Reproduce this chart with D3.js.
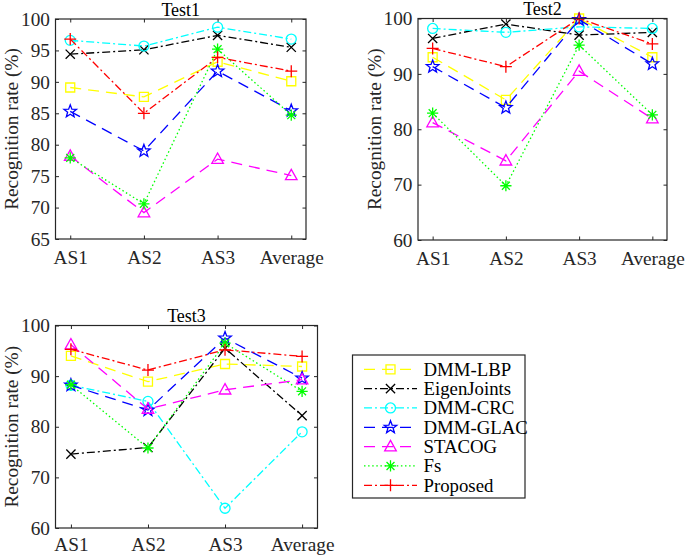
<!DOCTYPE html>
<html>
<head>
<meta charset="utf-8">
<script src="https://cdn.jsdelivr.net/npm/d3@7"></script>
<style>
  html, body { margin: 0; padding: 0; background: #fff; }
  svg, svg text { font-family: 'Liberation Serif', 'Times New Roman', Times, 'DejaVu Serif', serif; }
</style>
</head>
<body>
<script>
// ---------------- DATA ----------------
const categories = ["AS1", "AS2", "AS3", "Average"];
const methods = ["DMM-LBP", "EigenJoints", "DMM-CRC", "DMM-GLAC", "STACOG", "Fs", "Proposed"];

// rows follow `methods` order; columns follow `categories`
const test1Values = [
  [89.1, 87.6, 93.2, 90.1],
  [94.4, 95.1, 97.4, 95.5],
  [96.6, 95.7, 98.7, 96.8],
  [85.3, 79.0, 91.7, 85.4],
  [78.2, 69.2, 77.7, 75.1],
  [77.9, 70.6, 95.2, 84.7],
  [96.8, 85.0, 93.9, 91.7]
];
const test2Values = [
  [93.0, 85.3, 100.0, 93.0],
  [96.4, 99.0, 97.0, 97.5],
  [98.2, 97.5, 98.5, 98.2],
  [91.3, 83.9, 99.8, 91.8],
  [81.2, 74.3, 90.5, 81.9],
  [82.9, 69.8, 95.2, 82.6],
  [94.6, 91.3, 100.0, 95.4]
];
const test3Values = [
  [94.0, 88.9, 92.4, 91.9],
  [74.6, 75.9, 95.5, 82.2],
  [88.2, 85.0, 63.9, 79.0],
  [88.2, 83.3, 97.5, 89.6],
  [96.2, 83.5, 87.3, 89.3],
  [88.3, 75.8, 96.5, 87.0],
  [95.3, 91.2, 95.2, 93.9]
];
const test1Ticks = [65, 70, 75, 80, 85, 90, 95, 100];
const test23Ticks = [60, 70, 80, 90, 100];

// ---------------- STYLES ----------------
const styles = [
  { color: "#ffff00", dash: "11,7",        marker: "square" },
  { color: "#000000", dash: "8,3,2,3",     marker: "x" },
  { color: "#00ffff", dash: "8,3,2,3",     marker: "circle" },
  { color: "#0000ff", dash: "11,7",        marker: "star" },
  { color: "#ff00ff", dash: "11,7",        marker: "triangle" },
  { color: "#00ff00", dash: "1.5,2.6",     marker: "asterisk" },
  { color: "#ff0000", dash: "8,3,2,3",     marker: "plus" }
];

const FONT = "'Liberation Serif', 'Times New Roman', Times, 'DejaVu Serif', serif";

function markerPath(type) {
  const p = d3.path();
  if (type === "square") {
    p.rect(-4.5, -4.5, 9, 9);
  } else if (type === "circle") {
    p.moveTo(5, 0); p.arc(0, 0, 5, 0, 2 * Math.PI);
  } else if (type === "x") {
    const r = 4.6;
    p.moveTo(-r, -r); p.lineTo(r, r); p.moveTo(-r, r); p.lineTo(r, -r);
  } else if (type === "plus") {
    const r = 6;
    p.moveTo(-r, 0); p.lineTo(r, 0); p.moveTo(0, -r); p.lineTo(0, r);
  } else if (type === "asterisk") {
    const r = 5.6, q = r * 0.707;
    p.moveTo(-r, 0); p.lineTo(r, 0); p.moveTo(0, -r); p.lineTo(0, r);
    p.moveTo(-q, -q); p.lineTo(q, q); p.moveTo(-q, q); p.lineTo(q, -q);
  } else if (type === "triangle") {
    p.moveTo(0, -6.2); p.lineTo(5.8, 4.2); p.lineTo(-5.8, 4.2); p.closePath();
  } else if (type === "star") {
    const R = 6.6, rr = R * 0.42;
    for (let k = 0; k < 10; k++) {
      const a = -Math.PI / 2 + k * Math.PI / 5;
      const rad = k % 2 === 0 ? R : rr;
      const px = rad * Math.cos(a), py = rad * Math.sin(a);
      if (k === 0) p.moveTo(px, py); else p.lineTo(px, py);
    }
    p.closePath();
  }
  return p.toString();
}

const W = 685, H = 557;
const svg = d3.select("body").append("svg").attr("width", W).attr("height", H)
  .style("font-family", FONT);
svg.append("rect").attr("width", W).attr("height", H).attr("fill", "#fff");

const axisColor = "#262626";
const fontSize = 19.3;

function drawPanel(cfg) {
  const g = svg.append("g");
  const x = d3.scaleLinear().domain([0.8, 4.2]).range([cfg.left, cfg.right]);
  const y = d3.scaleLinear().domain(cfg.yDomain).range([cfg.bottom, cfg.top]);

  const left = g.append("g").attr("transform", `translate(${cfg.left},0)`)
    .call(d3.axisLeft(y).tickValues(cfg.yTicks).tickSize(-3.5).tickPadding(5.5).tickFormat(d3.format("d")));
  const right = g.append("g").attr("transform", `translate(${cfg.right},0)`)
    .call(d3.axisRight(y).tickValues(cfg.yTicks).tickSize(-3.5).tickFormat(""));
  const top = g.append("g").attr("transform", `translate(0,${cfg.top})`)
    .call(d3.axisTop(x).tickValues([1, 2, 3, 4]).tickSize(-3.5).tickFormat(""));
  const bottom = g.append("g").attr("transform", `translate(0,${cfg.bottom})`)
    .call(d3.axisBottom(x).tickValues([1, 2, 3, 4]).tickSize(-3.5).tickPadding(cfg.xPad)
      .tickFormat((d, i) => categories[i]));
  [left, right, top, bottom].forEach(a => {
    a.attr("font-family", null).attr("font-size", null);
    a.select(".domain").remove();
    a.selectAll("line").attr("stroke", axisColor).attr("stroke-width", 1);
    a.selectAll("text").attr("fill", axisColor)
      .style("font-size", fontSize + "px").style("font-family", FONT);
  });

  cfg.data.forEach((vals, si) => {
    const st = styles[si];
    const line = d3.line().x((d, i) => x(i + 1)).y(d => y(d));
    g.append("path").datum(vals).attr("d", line)
      .attr("fill", "none").attr("stroke", st.color).attr("stroke-width", 1.3)
      .attr("stroke-dasharray", st.dash);
    g.selectAll(null).data(vals).enter().append("path")
      .attr("transform", (d, i) => `translate(${x(i + 1)},${y(d)})`)
      .attr("d", markerPath(st.marker))
      .attr("fill", "none").attr("stroke", st.color).attr("stroke-width", 1.3);
  });

  g.append("rect")
    .attr("x", cfg.left).attr("y", cfg.top)
    .attr("width", cfg.right - cfg.left).attr("height", cfg.bottom - cfg.top)
    .attr("fill", "none").attr("stroke", axisColor).attr("stroke-width", 1.2);

  g.append("text").attr("x", (cfg.left + cfg.right) / 2).attr("y", cfg.top - 3.5)
    .attr("text-anchor", "middle").style("font-size", "18px").style("font-family", FONT)
    .attr("fill", "#000").text(cfg.title);

  const cy = (cfg.top + cfg.bottom) / 2, cx = cfg.left - 37.5;
  g.append("text").attr("transform", `translate(${cx},${cy}) rotate(-90)`)
    .attr("text-anchor", "middle").style("font-size", fontSize + "px").style("font-family", FONT)
    .attr("fill", axisColor).text("Recognition rate (%)");
}

drawPanel({ left: 55.5, right: 306, top: 19, bottom: 239, yDomain: [65, 100], yTicks: test1Ticks,
  title: "Test1", data: test1Values, xPad: 11.5 });
drawPanel({ left: 418, right: 667, top: 18.5, bottom: 240, yDomain: [60, 100], yTicks: test23Ticks,
  title: "Test2", data: test2Values, xPad: 11.5 });
drawPanel({ left: 55.5, right: 317.5, top: 325.5, bottom: 528, yDomain: [60, 100], yTicks: test23Ticks,
  title: "Test3", data: test3Values, xPad: 9.5 });

// legend
const lg = svg.append("g");
lg.append("rect").attr("x", 352.5).attr("y", 355).attr("width", 172.5).attr("height", 143)
  .attr("fill", "#fff").attr("stroke", axisColor).attr("stroke-width", 1.2);
const legY = d3.scalePoint().domain(methods).range([369.3, 485.3]);
methods.forEach((m, si) => {
  const st = styles[si];
  const yy = legY(m);
  lg.append("line").attr("x1", 364).attr("x2", 417).attr("y1", yy).attr("y2", yy)
    .attr("stroke", st.color).attr("stroke-width", 1.3).attr("stroke-dasharray", st.dash);
  lg.append("path").attr("transform", `translate(390.5,${yy})`).attr("d", markerPath(st.marker))
    .attr("fill", "none").attr("stroke", st.color).attr("stroke-width", 1.3);
  lg.append("text").attr("x", 423.5).attr("y", yy).attr("dy", "0.33em")
    .style("font-size", "18.8px").style("font-family", FONT).attr("fill", "#000").text(m);
});
</script>
</body>
</html>
